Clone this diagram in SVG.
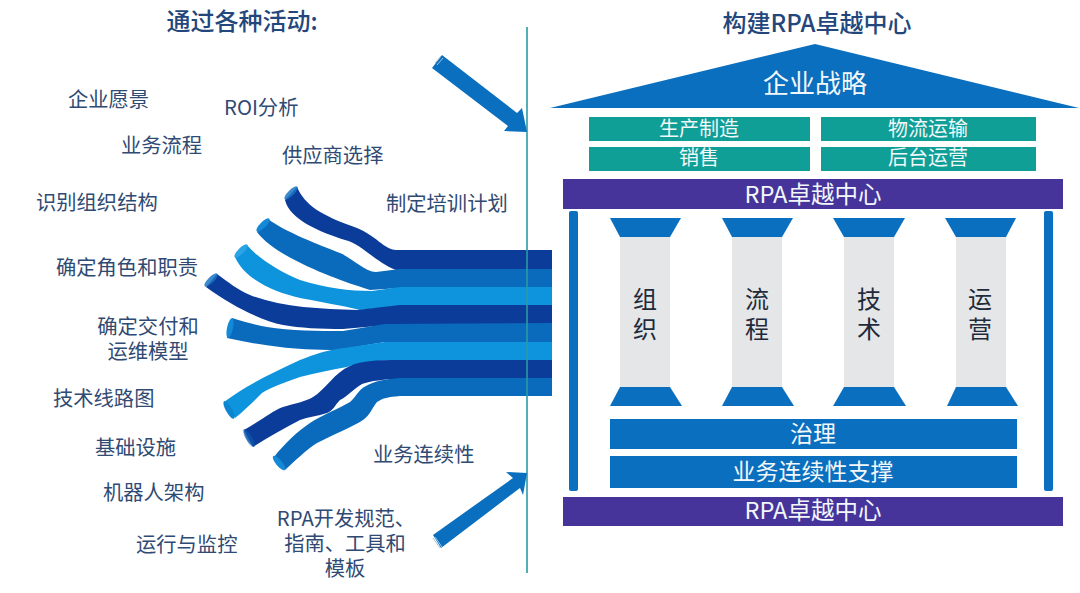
<svg xmlns="http://www.w3.org/2000/svg" width="1080" height="593" viewBox="0 0 1080 593">
<style>
text{font-family:"Noto Sans CJK SC","Noto Sans",sans-serif;dominant-baseline:central}
.l{font-size:20.3px;fill:#2f4a73;}
.c{text-anchor:middle}
.h{font-size:24px;font-weight:500;fill:#23477c;text-anchor:middle}
.w{fill:#f2f7fa;text-anchor:middle}
.v{font-size:24px;fill:#1f2a3a;text-anchor:middle}
.dark{fill:#0b3c99}.mid{fill:#0a6bbd}.light{fill:#0e93dd}
.blue{fill:#0a6fbf}.teal{fill:#0f9f97}.purple{fill:#46349a}.col{fill:#e4e6e8}
</style>
<rect width="1080" height="593" fill="#ffffff"/>
<g id="titles">
<text class="h" x="242" y="19">通过各种活动:</text>
<text class="h" x="817" y="21">构建RPA卓越中心</text>
</g>
<g id="labels">
<text class="l" x="68" y="97.5">企业愿景</text>
<text class="l" x="224" y="105.5">ROI分析</text>
<text class="l" x="121" y="143.5">业务流程</text>
<text class="l" x="282" y="153.5">供应商选择</text>
<text class="l" x="36" y="200.5">识别组织结构</text>
<text class="l" x="386" y="201.5">制定培训计划</text>
<text class="l" x="56" y="265.5">确定角色和职责</text>
<text class="l c" y="324.5"><tspan x="148">确定交付和</tspan><tspan x="148" dy="25">运维模型</tspan></text>
<text class="l" x="53" y="396.5">技术线路图</text>
<text class="l" x="95" y="445.5">基础设施</text>
<text class="l" x="373" y="452.5">业务连续性</text>
<text class="l" x="103" y="490.5">机器人架构</text>
<text class="l" x="136" y="542.5">运行与监控</text>
<text class="l c" y="516.5"><tspan x="346">RPA开发规范、</tspan><tspan x="345" dy="25">指南、工具和</tspan><tspan x="345" dy="25">模板</tspan></text>
</g>
<g id="streams">
<path class="dark" d="M297,187 C305,205 320,215 357,228 C375,235 385,250 396,250 L552,250 L552,270 L396,270 C375,262 362,244 345,240 C320,232 290,220 285,200 Z"/>
<path class="mid" d="M268,219 C285,232 320,245 340,253 C352,258 365,272 376,272 L400,269 L552,269 L552,288 L400,288 L370,290 C355,285 345,282 330,276 C305,266 270,250 257,232 Z"/>
<path class="light" d="M247,245 C258,258 280,272 300,280 C325,288 350,291 372,291 L400,287 L552,287 L552,306 L400,306 L360,310 C340,305 320,302 300,298 C275,292 245,280 235,257 Z"/>
<path class="dark" d="M217,274 C228,282 238,290 250,295 C280,307 320,309 357,310 L400,305 L552,305 L552,324 L400,324 L343,329 C320,329 300,328 283,325 C260,320 230,305 206,287 Z"/>
<path class="mid" d="M232,318 C245,322 255,325 267,327 C290,331 320,331 343,331 L385,324 L552,323 L552,342 L385,342 L337,350 C315,350 295,349 280,347 C262,345 245,342 227,338 Z"/>
<path class="light" d="M224,402 C245,386 270,374 300,360 C315,354 325,351 337,349 L385,342 L552,342 L552,361 L400,360 C380,360 360,362 347,367 C330,370 315,373 300,377 C285,382 270,388 262,393 C255,400 245,410 235,418 Z"/>
<path class="dark" d="M244,430 C262,420 272,411 283,407 C295,403 305,402 313,397 C325,390 335,372 350,366 C360,361 375,360 400,360 L552,360 L552,379 L400,379 C385,379 370,381 362,384 C352,390 348,396 340,400 C335,405 333,411 327,413 C318,416 308,417 300,420 C285,428 268,437 253,447 Z"/>
<path class="mid" d="M274,457 C285,443 298,431 310,423 C322,415 340,408 350,402 C357,396 358,390 366,386 C375,381 385,379 400,378 L552,378 L552,396 L400,396 C388,397 383,398 377,402 C372,408 370,415 363,420 C352,427 335,434 317,443 C307,449 295,461 285,470 Z"/>
<g fill="#1b74c6" opacity=".85">
<ellipse cx="291" cy="193" rx="3" ry="9" transform="rotate(45 291 193)"/>
<ellipse cx="211" cy="280" rx="3" ry="9" transform="rotate(45 211 280)"/>
<ellipse cx="249" cy="438" rx="3" ry="10" transform="rotate(-30 249 438)" fill="#0a55ad"/>
</g>
<ellipse cx="263" cy="225" rx="3" ry="9" transform="rotate(45 263 225)" fill="#1489d8"/>
<ellipse cx="241" cy="251" rx="3" ry="9" transform="rotate(45 241 251)" fill="#2aa4e6"/>
<ellipse cx="230" cy="328" rx="3" ry="10" transform="rotate(12 230 328)" fill="#1489d8"/>
<ellipse cx="229" cy="410" rx="3" ry="10" transform="rotate(-30 229 410)" fill="#0b85d0"/>
<ellipse cx="279" cy="463" rx="3" ry="9" transform="rotate(-40 279 463)" fill="#1489d8"/>
</g>
<g id="connectors">
<line x1="527" y1="27" x2="527" y2="573" stroke="#2a9aa6" stroke-width="1.6"/>
<polygon class="blue" points="442,55 517,113 522,108 527,132 504,131 508,126 432,68"/>
<polygon class="blue" points="433,535 513,478 506,472 527,473 523,495 520,488 441,548"/>
<path d="M435,63 L441,56 M437,65 L443,58" stroke="#9fc4de" stroke-width="1" fill="none"/>
<path d="M433,538 L440,548 M435,537 L442,547" stroke="#9fc4de" stroke-width="1" fill="none"/>
</g>
<g id="roof">
<polygon class="blue" points="815,44 1079,108 550,108"/>
<text class="w" x="815" y="81" style="font-size:26px">企业战略</text>
</g>
<g id="sector-manufacturing"><rect class="teal" x="589" y="117" width="221" height="24"/><text class="w" x="699" y="127.5" style="font-size:20px">生产制造</text></g>
<g id="sector-logistics"><rect class="teal" x="821" y="117" width="215" height="24"/><text class="w" x="928" y="127.5" style="font-size:20px">物流运输</text></g>
<g id="sector-sales"><rect class="teal" x="589" y="147" width="221" height="24"/><text class="w" x="699" y="156.5" style="font-size:20px">销售</text></g>
<g id="sector-backoffice"><rect class="teal" x="821" y="147" width="215" height="24"/><text class="w" x="928" y="156.5" style="font-size:20px">后台运营</text></g>
<g id="coe-top"><rect class="purple" x="563" y="179" width="500" height="30"/><text class="w" x="813" y="192.5" style="font-size:23.5px">RPA卓越中心</text></g>
<g id="side-left"><rect class="blue" x="569" y="211" width="9" height="280" rx="2"/></g>
<g id="side-right"><rect class="blue" x="1044" y="211" width="9" height="280" rx="2"/></g>
<g id="pillar-org">
<rect class="col" x="620" y="237" width="50" height="151"/>
<polygon class="blue" points="610,218 681,218 670,237 620,237"/>
<polygon class="blue" points="620,387 670,387 682,406 610,406"/>
<text class="v" y="297"><tspan x="645">组</tspan><tspan x="645" dy="30">织</tspan></text>
</g>
<g id="pillar-process">
<rect class="col" x="732" y="237" width="50" height="151"/>
<polygon class="blue" points="722,218 793,218 782,237 732,237"/>
<polygon class="blue" points="732,387 782,387 794,406 722,406"/>
<text class="v" y="297"><tspan x="757">流</tspan><tspan x="757" dy="30">程</tspan></text>
</g>
<g id="pillar-tech">
<rect class="col" x="844" y="237" width="50" height="151"/>
<polygon class="blue" points="833,218 905,218 894,237 844,237"/>
<polygon class="blue" points="844,387 894,387 906,406 833,406"/>
<text class="v" y="297"><tspan x="869">技</tspan><tspan x="869" dy="30">术</tspan></text>
</g>
<g id="pillar-ops">
<rect class="col" x="956" y="237" width="50" height="151"/>
<polygon class="blue" points="945,218 1016,218 1006,237 956,237"/>
<polygon class="blue" points="956,387 1006,387 1018,406 947,406"/>
<text class="v" y="297"><tspan x="980">运</tspan><tspan x="980" dy="30">营</tspan></text>
</g>
<g id="governance"><rect class="blue" x="610" y="419" width="407" height="30"/><text class="w" x="813" y="431.5" style="font-size:23px">治理</text></g>
<g id="continuity"><rect class="blue" x="610" y="456" width="407" height="32"/><text class="w" x="813" y="469.5" style="font-size:23px">业务连续性支撑</text></g>
<g id="coe-bottom"><rect class="purple" x="563" y="497" width="500" height="29"/><text class="w" x="813" y="508.5" style="font-size:23.5px">RPA卓越中心</text></g>
</svg>
